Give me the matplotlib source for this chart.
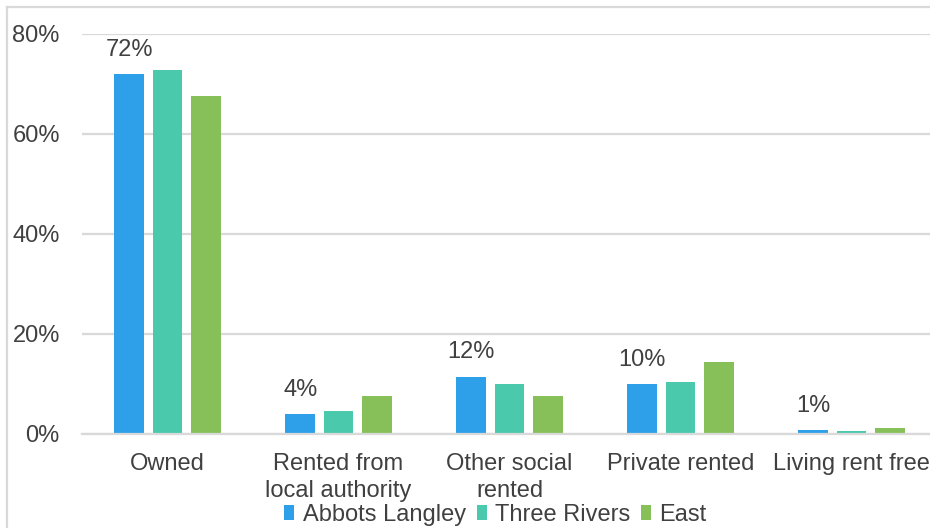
import matplotlib.pyplot as plt
import numpy as np
from matplotlib.lines import Line2D

plt.rcParams['font.family'] = ['Liberation Sans', 'DejaVu Sans']

categories = ['Owned', 'Rented from\nlocal authority', 'Other social\nrented',
              'Private rented', 'Living rent free']
series = ['Abbots Langley', 'Three Rivers', 'East']
abbots_langley = [72.1, 4.1, 11.5, 10.1, 0.8]
three_rivers = [72.8, 4.6, 10.1, 10.4, 0.7]
east = [67.7, 7.6, 7.6, 14.5, 1.25]
colors = ['#2ea0ea', '#4bc9ad', '#87c059']
yticks = [0, 20, 40, 60, 80]

text_col = '#404040'
grid_col = '#d9d9d9'
fs = 17

fig = plt.figure(figsize=(9.3, 5.28), dpi=100)
ax = fig.add_axes([82 / 930, 94 / 528, 855 / 930, 400 / 528])

x = np.arange(len(categories))
width = 0.1725
step = 0.224
for i, (vals, name) in enumerate(zip([abbots_langley, three_rivers, east], series)):
    ax.bar(x + (i - 1) * step, vals, width, color=colors[i], label=name, zorder=3)

# value labels over the first series
for xi, v in zip(x, abbots_langley):
    ax.annotate(f'{v:.0f}%', (xi - step, v), xytext=(0, 24), textcoords='offset pixels',
                ha='center', va='center', fontsize=fs, color=text_col)

ax.set_xlim(-0.5, 4.5)
ax.set_ylim(0, 80)
ax.set_yticks(yticks)
ax.set_yticklabels([f'{t}%' for t in yticks])
ax.set_xticks(x)
ax.set_xticklabels(categories, linespacing=1.25)
ax.tick_params(axis='y', length=0, pad=16, labelsize=fs, labelcolor=text_col)
ax.tick_params(axis='x', length=0, pad=14, labelsize=fs, labelcolor=text_col)
ax.grid(axis='y', color=grid_col, linewidth=1.6, zorder=0)
for s in ['top', 'right', 'left']:
    ax.spines[s].set_visible(False)
ax.spines['bottom'].set_color(grid_col)
ax.spines['bottom'].set_linewidth(1.6)
ax.spines['bottom'].set_zorder(4)

# chart border (top and left edges)
fig.add_artist(Line2D([7 / 930, 7 / 930], [0, 1 - 7 / 528], color=grid_col, lw=1.6))
fig.add_artist(Line2D([7 / 930, 1], [1 - 7 / 528, 1 - 7 / 528], color=grid_col, lw=1.6))

leg = fig.legend(loc='center', bbox_to_anchor=(495.5 / 930, 13 / 528), ncol=3,
                 frameon=False, fontsize=fs, handlelength=0.43, handleheight=0.6,
                 handletextpad=0.34, columnspacing=0.47, borderpad=0, borderaxespad=0)
for t in leg.get_texts():
    t.set_color(text_col)

fig.savefig('out.png', dpi=100, facecolor='white')
